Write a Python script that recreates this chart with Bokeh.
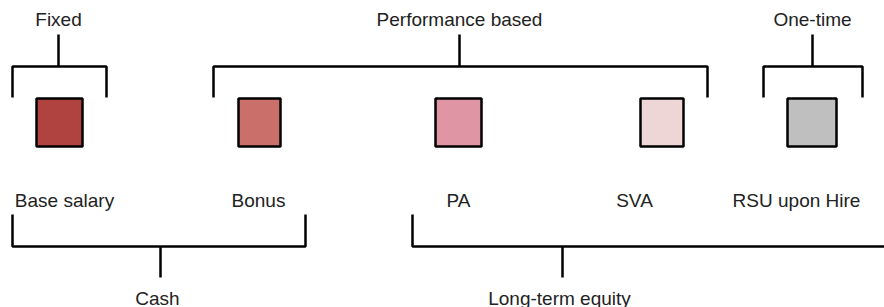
from bokeh.plotting import figure
from bokeh.models import Range1d
from bokeh.core.properties import value
from bokeh.embed import file_html
from bokeh.resources import INLINE

# ---- content ----
components = ["Base salary", "Bonus", "PA", "SVA", "RSU upon Hire"]
component_colors = ["#b0423f", "#cb6f6b", "#e095a5", "#eed6d7", "#bfbfbf"]
top_groups = ["Fixed", "Performance based", "One-time"]
bottom_groups = ["Cash", "Long-term equity"]

# ---- layout (pixels in the picture frame) ----
sq_left = [36, 238, 435, 640, 787]
sq_right = [82, 280, 481, 683, 836]
sq_top, sq_bottom = 98, 146
label_x = [64, 258, 458, 634, 796]
label_y = 200

top_span = [(12, 106, 58), (213, 707, 459), (763, 862, 812)]
top_line_y, top_tick_y, top_stem_y, top_text_y = 66, 97, 34, 19
bot_span = [(12, 305, 160), (412, 960, 562)]
bot_line_y, bot_tick_y, bot_stem_y, bot_text_y = 246, 214, 277, 298
bot_text_x = [157, 559]

FONT = value("Liberation Sans")
W, H = 884, 307

p = figure(width=W, height=H, output_backend="svg", toolbar_location=None,
           x_range=Range1d(0, W), y_range=Range1d(H, 0),
           min_border=0, outline_line_color=None, background_fill_color="white",
           border_fill_color="white")
p.axis.visible = False
p.grid.visible = False

# squares
p.quad(left=sq_left, right=sq_right, top=[sq_top] * 5, bottom=[sq_bottom] * 5,
       fill_color=component_colors, line_color="black", line_width=2.5)

# component labels
p.text(x=label_x, y=[label_y] * 5, text=components, text_font=FONT,
       text_font_size="19px", text_color="#222222", text_align="center",
       text_baseline="alphabetic")

# brackets
xs, ys = [], []
for l, r, m in top_span:
    xs.append([l, l, r, r]); ys.append([top_tick_y, top_line_y, top_line_y, top_tick_y])
    xs.append([m, m]); ys.append([top_line_y, top_stem_y])
for l, r, m in bot_span:
    xs.append([l, l, r, r]); ys.append([bot_tick_y, bot_line_y, bot_line_y, bot_tick_y])
    xs.append([m, m]); ys.append([bot_line_y, bot_stem_y])
p.multi_line(xs=xs, ys=ys, line_color="black", line_width=2.5)

p.text(x=[m for _, _, m in top_span], y=[top_text_y] * 3, text=top_groups,
       text_font=FONT, text_font_size="19px", text_color="#222222",
       text_align="center", text_baseline="alphabetic")
p.text(x=bot_text_x, y=[bot_text_y] * 2, text=bottom_groups,
       text_font=FONT, text_font_size="19px", text_color="#222222",
       text_align="center", text_baseline="alphabetic")

html = file_html(p, INLINE)
html = html.replace("<head>", "<head><style>html,body{overflow:hidden;margin:0;}</style>", 1)
open("out.html", "w").write(html)
